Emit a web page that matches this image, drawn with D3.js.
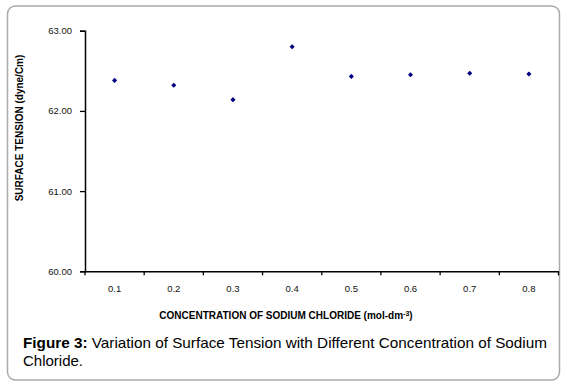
<!DOCTYPE html>
<html>
<head>
<meta charset="utf-8">
<script src="https://cdn.jsdelivr.net/npm/d3@7"></script>
<style>
  body { margin: 0; background: #fff; }
  svg { display: block; font-family: "Liberation Sans", Arial, sans-serif; }
</style>
</head>
<body>
<div id="chart"></div>
<script>
// Datos
const concentrations = ["0.1", "0.2", "0.3", "0.4", "0.5", "0.6", "0.7", "0.8"];
const surfaceTension = [62.38, 62.32, 62.14, 62.80, 62.43, 62.45, 62.47, 62.46];
const yTicks = [60, 61, 62, 63];

const width = 567;
const height = 388;

const svg = d3.select("#chart")
    .append("svg")
    .attr("width", width)
    .attr("height", height);

// Marco redondeado
svg.append("rect")
    .attr("x", 7.5)
    .attr("y", 6)
    .attr("width", 552)
    .attr("height", 374)
    .attr("rx", 8)
    .attr("fill", "#fff")
    .attr("stroke", "#aaa")
    .attr("stroke-width", 1.5);

// Escalas
const x = d3.scaleBand()
    .domain(concentrations)
    .range([85, 558.5]);

const y = d3.scaleLinear()
    .domain([60, 63])
    .range([271.3, 30.7]);

// Eje Y
svg.append("g")
    .attr("transform", "translate(85,0)")
    .call(d3.axisLeft(y).tickValues(yTicks).tickFormat(d3.format(".2f")).tickSize(5).tickPadding(8));

// Eje X: marcas en los bordes de cada categoría
const xAxis = svg.append("g")
    .attr("transform", "translate(0,271.3)")
    .call(d3.axisBottom(x).tickSize(0).tickPadding(14));

xAxis.selectAll(".edge")
    .data(concentrations.concat(["end"]))
    .enter().append("line")
    .attr("class", "edge")
    .attr("x1", (d, i) => i < concentrations.length ? x(d) : x.range()[1])
    .attr("x2", (d, i) => i < concentrations.length ? x(d) : x.range()[1])
    .attr("y1", 0)
    .attr("y2", 4)
    .attr("stroke", "#000")
    .attr("stroke-width", 1.3);

svg.selectAll(".domain").attr("stroke", "#000").attr("stroke-width", 1.5);
svg.selectAll(".tick line").attr("stroke", "#000").attr("stroke-width", 1.3);
svg.selectAll(".tick text")
    .attr("font-size", 9.5)
    .attr("font-family", "'Liberation Sans', Arial, sans-serif")
    .attr("fill", "#111");

// Puntos (rombos)
svg.selectAll("path.point")
    .data(surfaceTension)
    .enter().append("path")
    .attr("class", "point")
    .attr("d", d3.symbol().type(d3.symbolSquare).size(13))
    .attr("transform", (d, i) => `translate(${x(concentrations[i]) + x.bandwidth() / 2},${y(d)}) rotate(45)`)
    .attr("fill", "#000080");

// Título del eje X
const xTitle = svg.append("text")
    .attr("x", 286)
    .attr("y", 319)
    .attr("text-anchor", "middle")
    .attr("font-size", 10)
    .attr("font-weight", "bold")
    .attr("fill", "#000");
xTitle.append("tspan").text("CONCENTRATION OF SODIUM CHLORIDE (mol-dm");
xTitle.append("tspan").attr("font-size", 7).attr("dy", -3).text("-3");
xTitle.append("tspan").attr("dy", 3).text(")");

// Título del eje Y
svg.append("text")
    .attr("transform", "translate(23,128) rotate(-90)")
    .attr("text-anchor", "middle")
    .attr("font-size", 10)
    .attr("font-weight", "bold")
    .attr("fill", "#000")
    .text("SURFACE TENSION (dyne/Cm)");

// Pie de figura
const caption = svg.append("text")
    .attr("x", 23)
    .attr("y", 347.5)
    .attr("font-size", 15)
    .attr("fill", "#000")
    .attr("textLength", 524)
    .attr("lengthAdjust", "spacingAndGlyphs");
caption.append("tspan").attr("font-weight", "bold").text("Figure 3:");
caption.append("tspan").text(" Variation of Surface Tension with Different Concentration of Sodium");
svg.append("text")
    .attr("x", 23)
    .attr("y", 365.5)
    .attr("font-size", 15)
    .attr("fill", "#000")
    .text("Chloride.");
</script>
</body>
</html>
